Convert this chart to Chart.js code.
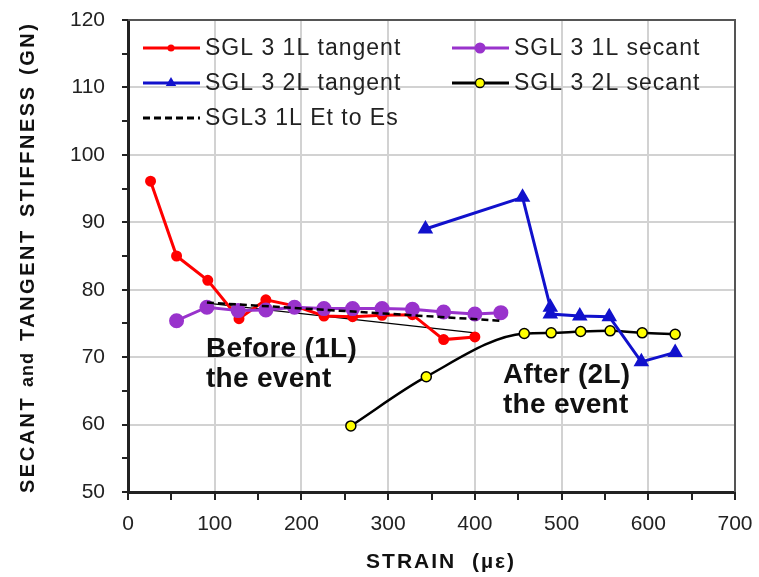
<!DOCTYPE html>
<html>
<head>
<meta charset="utf-8">
<script src="https://cdn.jsdelivr.net/npm/chart.js@4.4.1/dist/chart.umd.min.js"></script>
<style>
  html, body { margin: 0; padding: 0; background: #fff; }
  #wrap { width: 759px; height: 577px; }
</style>
</head>
<body>
<div id="wrap"><canvas id="c" width="759" height="577"></canvas></div>
<script>
// values (strain in µε, stiffness in GN)
const tan1X = [26, 56, 92, 128, 159, 192, 226, 259, 293, 328, 364, 400];
const tan1Y = [96.1, 85.0, 81.4, 75.7, 78.5, 77.6, 76.1, 76.0, 76.2, 76.3, 72.6, 73.0];

const sec1X = [56, 91, 127, 159, 192, 226, 259, 293, 328, 364, 400, 430];
const sec1Y = [75.4, 77.4, 76.9, 77.0, 77.4, 77.2, 77.2, 77.2, 77.1, 76.7, 76.4, 76.6];

const tan2X = [343, 455, 487, 487, 521, 555, 592, 631];
const tan2Y = [89.0, 93.7, 77.4, 76.4, 76.1, 76.0, 69.3, 70.7];

const sec2X = [257, 344, 457, 488, 522, 556, 593, 631];
const sec2Y = [59.8, 67.1, 73.5, 73.6, 73.8, 73.9, 73.6, 73.4];

const etEsX = [91, 430];
const etEsY = [78.1, 75.4];

const trendX = [91, 400];
const trendY = [78.0, 73.6];

const legendNames = ['SGL 3 1L tangent', 'SGL 3 1L secant', 'SGL 3 2L tangent', 'SGL 3 2L secant', 'SGL3 1L Et to Es'];

const pts = (xs, ys) => xs.map((x, i) => ({ x: x, y: ys[i] }));

const RED = '#ff0000', PURPLE = '#9933cc', BLUE = '#1111cc', YEL = '#ffff00';

const datasets = [
  { label: legendNames[0], data: pts(tan1X, tan1Y), borderColor: RED, backgroundColor: RED,
    borderWidth: 3, pointRadius: 4, pointStyle: 'circle', order: 4 },
  { label: legendNames[1], data: pts(sec1X, sec1Y), borderColor: PURPLE, backgroundColor: PURPLE,
    borderWidth: 3, pointRadius: 6, pointStyle: 'circle', order: 3 },
  { label: legendNames[2], data: pts(tan2X, tan2Y), borderColor: BLUE, backgroundColor: BLUE,
    borderWidth: 3, pointRadius: 6, pointStyle: 'triangle', order: 1 },
  { label: legendNames[3], data: pts(sec2X, sec2Y), borderColor: '#000', backgroundColor: YEL,
    borderWidth: 2.5, pointBorderWidth: 1.5, pointRadius: 5, pointStyle: 'circle',
    cubicInterpolationMode: 'monotone', order: 2 },
  { label: legendNames[4], data: pts(etEsX, etEsY), borderColor: '#000', borderWidth: 2.5,
    borderDash: [7, 4], pointRadius: 0, order: 2 },
  { label: 'trend', data: pts(trendX, trendY), borderColor: '#000', borderWidth: 1.3,
    pointRadius: 0, order: 5 }
];

function drawMarker(ctx, style, x, y, r, fill, stroke, bw) {
  ctx.beginPath();
  if (style === 'triangle') {
    ctx.moveTo(x, y - r);
    ctx.lineTo(x + r * 0.87, y + r * 0.5);
    ctx.lineTo(x - r * 0.87, y + r * 0.5);
    ctx.closePath();
  } else {
    ctx.arc(x, y, r, 0, Math.PI * 2);
  }
  ctx.fillStyle = fill;
  ctx.fill();
  if (bw) { ctx.lineWidth = bw; ctx.strokeStyle = stroke; ctx.stroke(); }
}

const extras = {
  id: 'extras',
  afterDraw(chart) {
    const ctx = chart.ctx;
    const a = chart.chartArea;
    ctx.save();
    // top and right frame
    ctx.strokeStyle = '#555';
    ctx.lineWidth = 2;
    ctx.beginPath();
    ctx.moveTo(a.left, a.top);
    ctx.lineTo(a.right, a.top);
    ctx.lineTo(a.right, a.bottom);
    ctx.stroke();

    // legend inside the plot
    const rows = [
      { x: 143, y: 48, ds: 0, mk: 'circle', r: 3.5, fill: RED, bw: 0 },
      { x: 452, y: 48, ds: 1, mk: 'circle', r: 5.5, fill: PURPLE, bw: 0 },
      { x: 143, y: 83, ds: 2, mk: 'triangle', r: 6, fill: BLUE, bw: 0 },
      { x: 452, y: 83, ds: 3, mk: 'circle', r: 4.5, fill: YEL, bw: 1.3 },
      { x: 143, y: 118, ds: 4, mk: null }
    ];
    ctx.font = '23px "Liberation Sans", Arial, sans-serif';
    ctx.textBaseline = 'middle';
    ctx.textAlign = 'left';
    rows.forEach(rw => {
      const d = datasets[rw.ds];
      ctx.strokeStyle = d.borderColor;
      ctx.lineWidth = 3;
      ctx.setLineDash(d.borderDash || []);
      ctx.beginPath();
      ctx.moveTo(rw.x, rw.y);
      ctx.lineTo(rw.x + 57, rw.y);
      ctx.stroke();
      ctx.setLineDash([]);
      if (rw.mk) drawMarker(ctx, rw.mk, rw.x + 28, rw.y, rw.r, rw.fill, '#000', rw.bw);
      ctx.fillStyle = '#222';
      ctx.letterSpacing = '1px';
      ctx.fillText(d.label, rw.x + 62, rw.y + 1);
      ctx.letterSpacing = '0px';
    });

    // annotations
    ctx.fillStyle = '#111';
    ctx.font = 'bold 28px "Liberation Sans", Arial, sans-serif';
    ctx.textBaseline = 'alphabetic';
    ctx.letterSpacing = '0.3px';
    ctx.fillText('Before (1L)', 206, 357);
    ctx.fillText('the event', 206, 387);
    ctx.fillText('After (2L)', 503, 383);
    ctx.fillText('the event', 503, 413);

    // x axis title
    ctx.font = 'bold 21px "Liberation Sans", Arial, sans-serif';
    ctx.letterSpacing = '2px';
    ctx.textAlign = 'center';
    ctx.textBaseline = 'middle';
    ctx.fillText('STRAIN  (\u00b5\u03b5)', 441, 562);

    // y axis title, drawn word by word upward from the bottom
    ctx.translate(28, 493);
    ctx.rotate(-Math.PI / 2);
    ctx.textAlign = 'left';
    const parts = [
      { t: 'SECANT', off: 0, f: 'bold 20px' },
      { t: 'and', off: 106, f: 'bold 18px' },
      { t: 'TANGENT', off: 152, f: 'bold 20px' },
      { t: 'STIFFNESS', off: 276, f: 'bold 20px' },
      { t: '(GN)', off: 418, f: 'bold 20px' }
    ];
    parts.forEach(p => {
      ctx.font = p.f + ' "Liberation Sans", Arial, sans-serif';
      ctx.letterSpacing = p.t === 'and' ? '1px' : '2.5px';
      ctx.fillText(p.t, p.off, 0);
    });
    ctx.restore();
  }
};

const tickFont = { family: '"Liberation Sans Narrow", "Arial Narrow", "Liberation Sans", sans-serif', size: 21 };

new Chart(document.getElementById('c'), {
  type: 'scatter',
  data: { datasets: datasets.map(d => Object.assign({ showLine: true, fill: false, tension: 0 }, d)) },
  options: {
    responsive: false,
    animation: false,
    events: [],
    layout: { padding: { top: 20, right: 24, left: 0, bottom: 0 } },
    plugins: { legend: { display: false }, tooltip: { enabled: false } },
    scales: {
      x: {
        type: 'linear', min: 0, max: 700,
        ticks: {
          stepSize: 50, color: '#222', font: tickFont, padding: 12, maxRotation: 0,
          autoSkip: false,
          callback: v => (v % 100 === 0 ? String(v) : '')
        },
        grid: {
          color: c => (c.tick && c.tick.value % 100 === 0 ? '#d2d2d2' : 'transparent'),
          lineWidth: 2, tickColor: '#222', tickLength: 8, tickWidth: 2
        },
        border: { color: '#222', width: 3 },
        afterFit(s) { s.height = 85; s.paddingLeft = 0; s.paddingRight = 0; }
      },
      y: {
        type: 'linear', min: 50, max: 120,
        ticks: {
          stepSize: 5, color: '#222', font: tickFont, padding: 17,
          autoSkip: false,
          callback: v => (v % 10 === 0 ? String(v) : '')
        },
        grid: {
          color: c => (c.tick && c.tick.value % 10 === 0 ? '#d2d2d2' : 'transparent'),
          lineWidth: 2, tickColor: '#222', tickLength: 6, tickWidth: 2
        },
        border: { color: '#222', width: 3 },
        afterFit(s) { s.width = 128; s.paddingTop = 0; s.paddingBottom = 0; }
      }
    }
  },
  plugins: [extras]
});
</script>
</body>
</html>
